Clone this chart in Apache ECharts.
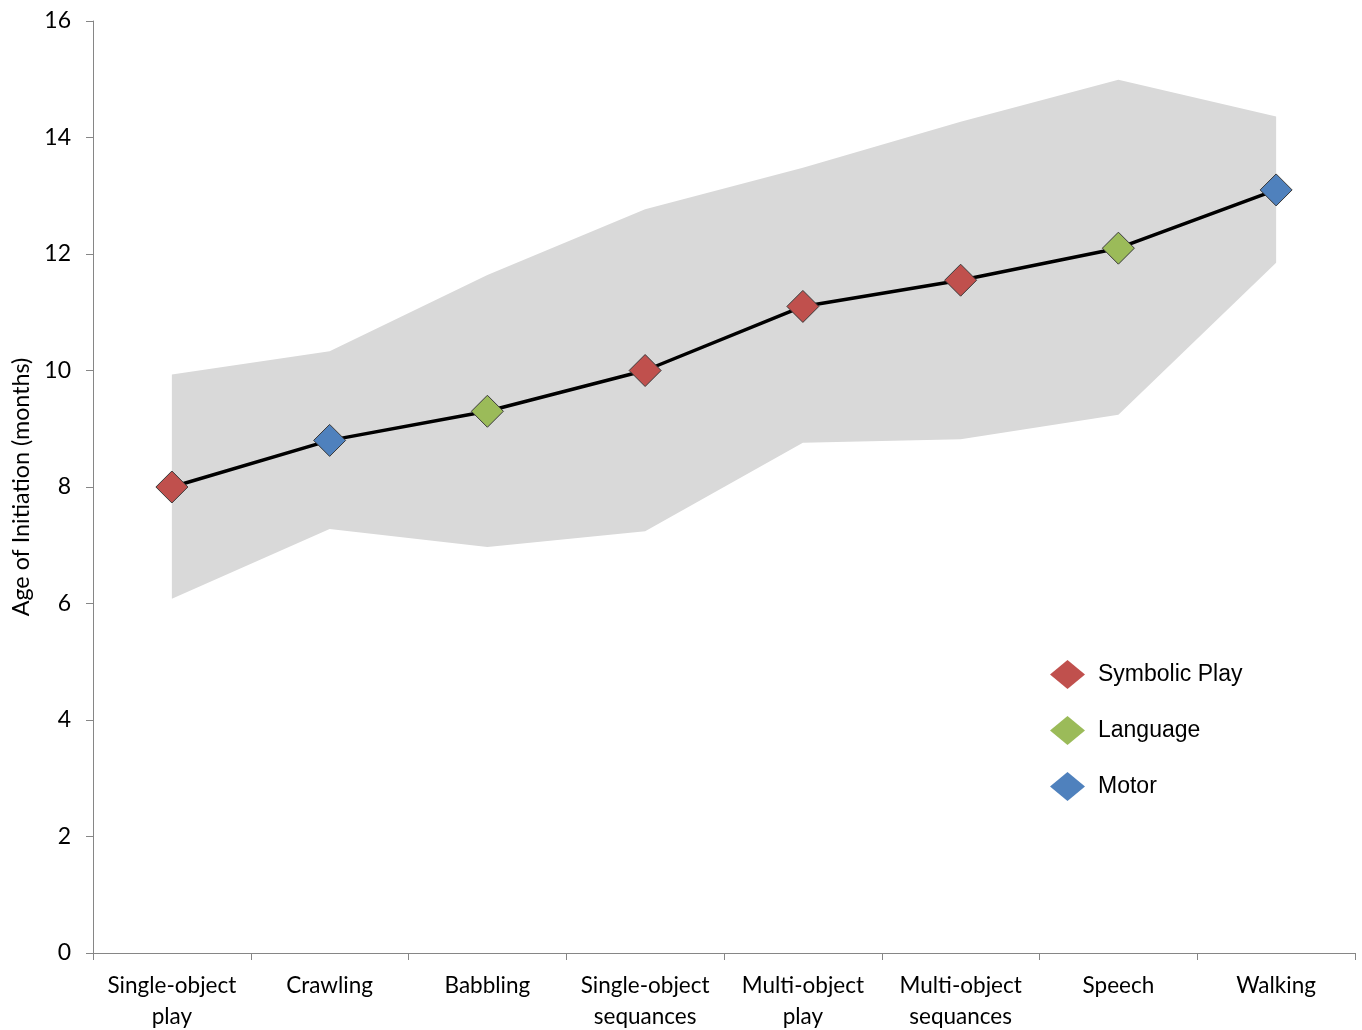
<!DOCTYPE html>
<html>
<head>
<meta charset="utf-8">
<script src="https://cdn.jsdelivr.net/npm/echarts@6/dist/echarts.min.js"></script>
<style>html,body{margin:0;padding:0;background:#fff}#c{width:1362px;height:1030px}</style>
</head>
<body>
<div id="c"></div>
<script>
const categories = ['Single-object\nplay', 'Crawling', 'Babbling', 'Single-object\nsequances', 'Multi-object\nplay', 'Multi-object\nsequances', 'Speech', 'Walking'];
const ages = [8.0, 8.8, 9.3, 10.0, 11.1, 11.55, 12.1, 13.1];
const lowerBound = [6.08, 7.28, 6.97, 7.24, 8.76, 8.82, 9.24, 11.85];
const upperBound = [9.93, 10.33, 11.64, 12.77, 13.48, 14.27, 14.99, 14.36];
const domains = ['Symbolic Play', 'Motor', 'Language', 'Symbolic Play', 'Symbolic Play', 'Symbolic Play', 'Language', 'Motor'];
const domainNames = ['Symbolic Play', 'Language', 'Motor'];
const yTicks = [0, 2, 4, 6, 8, 10, 12, 14, 16];

const colors = {'Symbolic Play': '#c0504d', 'Language': '#9bbb59', 'Motor': '#4f81bd'};
const font = 'Lato, "Open Sans", sans-serif';

const bandWidth = upperBound.map((u, i) => +(u - lowerBound[i]).toFixed(3));

const markerSeries = domainNames.map(name => ({
  name: name,
  type: 'line',
  data: ages.map((v, i) => domains[i] === name ? v : '-'),
  symbol: 'diamond',
  symbolSize: 32,
  showSymbol: true,
  lineStyle: {opacity: 0, width: 0},
  itemStyle: {color: colors[name], borderColor: '#3a3a3a', borderWidth: 1},
  z: 5,
  silent: true
}));

const chart = echarts.init(document.getElementById('c'), null, {renderer: 'canvas', width: 1362, height: 1030});
chart.setOption({
  animation: false,
  backgroundColor: '#fff',
  grid: {left: 93, width: 1262, top: 21, height: 932, containLabel: false, outerBoundsMode: 'none'},
  legend: {
    data: domainNames.map(n => ({name: n, icon: 'diamond', itemStyle: {borderWidth: 0}})),
    orient: 'vertical',
    left: 1045,
    top: 655,
    itemWidth: 35,
    itemHeight: 29,
    itemGap: 27,
    textStyle: {fontFamily: '"Liberation Sans", Arial, sans-serif', fontSize: 23, color: '#000', padding: [0, 0, 0, 8]},
    selectedMode: false
  },
  xAxis: {
    type: 'category',
    data: categories,
    boundaryGap: true,
    axisLine: {lineStyle: {color: '#868686', width: 1}},
    axisTick: {show: true, interval: 0, length: 7, lineStyle: {color: '#868686'}},
    axisLabel: {interval: 0, margin: 17, fontFamily: font, fontSize: 22.5, color: '#000', lineHeight: 31}
  },
  yAxis: {
    type: 'value',
    min: 0, max: 16, interval: 2,
    name: 'Age of Initiation (months)',
    nameLocation: 'middle',
    nameGap: 60,
    nameRotate: 90,
    nameTextStyle: {fontFamily: font, fontSize: 23.3, color: '#000'},
    splitLine: {show: false},
    axisLine: {show: true, lineStyle: {color: '#868686', width: 1}},
    axisTick: {show: true, length: 7, lineStyle: {color: '#868686'}},
    axisLabel: {margin: 22, fontFamily: font, fontSize: 23, color: '#000'}
  },
  series: [
    {
      name: 'lower', type: 'line', stack: 'band', data: lowerBound,
      symbol: 'none', lineStyle: {opacity: 0, width: 0}, silent: true, z: 1
    },
    {
      name: 'band', type: 'line', stack: 'band', data: bandWidth,
      symbol: 'none', lineStyle: {opacity: 0, width: 0},
      areaStyle: {color: '#d9d9d9', opacity: 1}, silent: true, z: 1
    },
    {
      name: 'age', type: 'line', data: ages, symbol: 'none',
      lineStyle: {color: '#000', width: 3.5}, z: 3, silent: true
    }
  ].concat(markerSeries)
});
</script>
</body>
</html>
